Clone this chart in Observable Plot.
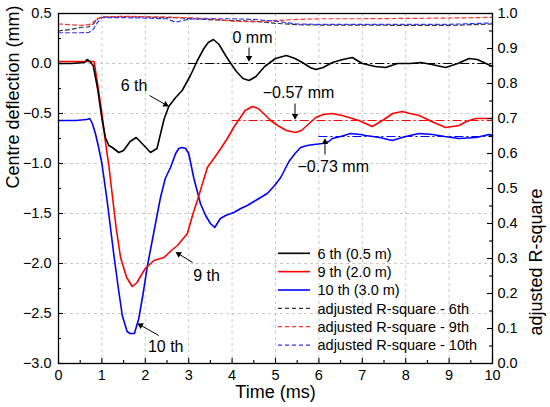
<!DOCTYPE html>
<html><head><meta charset="utf-8">
<script src="https://cdn.jsdelivr.net/npm/d3@7"></script>
<script src="https://cdn.jsdelivr.net/npm/@observablehq/plot@0.6"></script>
<style>body{margin:0;background:#fff}#c{position:relative;width:550px;height:407px}#c svg{display:block}</style>
</head><body><div id="c"></div>
<script>
// 6th (0.5 m)
const t6 = [0,0.3,0.6,0.66,0.72,0.8,0.9,1.0,1.08,1.16,1.24,1.39,1.5,1.65,1.79,1.97,2.12,2.27,2.43,2.54,2.7,2.85,3.04,3.2,3.35,3.45,3.57,3.7,3.85,3.97,4.1,4.25,4.39,4.55,4.75,5.0,5.25,5.45,5.62,5.8,5.93,6.1,6.31,6.55,6.77,7.0,7.3,7.54,7.81,8.1,8.35,8.6,8.92,9.2,9.46,9.65,9.85,10];
const v6 = [0,0,0.01,0.04,0.02,-0.02,-0.25,-0.55,-0.74,-0.82,-0.84,-0.89,-0.87,-0.78,-0.74,-0.82,-0.89,-0.85,-0.56,-0.43,-0.34,-0.27,-0.12,0.03,0.15,0.21,0.24,0.19,0.08,0.0,-0.08,-0.15,-0.17,-0.13,-0.03,0.05,0.08,0.05,0.01,-0.04,-0.06,-0.04,0.01,0.04,0.06,0.0,-0.03,-0.04,0.0,0.0,0.01,-0.01,-0.04,0.0,0.05,0.04,0.0,-0.03];
// 9th (2.0 m)
const t9 = [0,0.5,0.82,0.9,1.0,1.08,1.16,1.24,1.33,1.43,1.57,1.70,1.81,1.9,2.0,2.2,2.43,2.6,2.74,2.97,3.1,3.2,3.43,3.58,3.74,3.89,4.05,4.16,4.3,4.47,4.6,4.75,4.89,5.05,5.25,5.46,5.6,5.75,5.93,6.1,6.3,6.54,6.92,7.23,7.5,7.7,7.92,8.1,8.31,8.6,8.92,9.23,9.4,9.61,10];
const v9 = [0.02,0.02,0.02,-0.2,-0.5,-0.78,-1.02,-1.32,-1.65,-1.94,-2.14,-2.23,-2.19,-2.12,-2.05,-1.97,-1.94,-1.87,-1.82,-1.70,-1.5,-1.37,-1.04,-0.95,-0.85,-0.75,-0.63,-0.56,-0.47,-0.43,-0.45,-0.51,-0.57,-0.62,-0.67,-0.69,-0.67,-0.61,-0.54,-0.51,-0.50,-0.52,-0.57,-0.63,-0.56,-0.50,-0.48,-0.50,-0.52,-0.58,-0.64,-0.62,-0.58,-0.55,-0.55];
// 10th (3.0 m)
const t10 = [0,0.4,0.65,0.72,0.78,0.85,0.92,1.0,1.12,1.28,1.38,1.47,1.58,1.65,1.75,1.85,1.95,2.05,2.2,2.35,2.46,2.58,2.7,2.77,2.85,2.93,3.0,3.12,3.27,3.39,3.5,3.6,3.73,3.85,4.04,4.2,4.35,4.58,4.81,4.98,5.12,5.31,5.45,5.58,5.73,5.89,6.08,6.23,6.31,6.5,6.73,6.96,7.08,7.4,7.69,7.92,8.1,8.31,8.62,8.9,9.23,9.62,9.92,10];
const v10 = [-0.57,-0.57,-0.56,-0.55,-0.6,-0.70,-0.83,-1.0,-1.37,-1.93,-2.25,-2.52,-2.68,-2.70,-2.70,-2.55,-2.3,-2.02,-1.68,-1.34,-1.15,-1.04,-0.9,-0.85,-0.84,-0.85,-0.9,-1.15,-1.4,-1.52,-1.6,-1.64,-1.55,-1.52,-1.49,-1.45,-1.42,-1.36,-1.3,-1.22,-1.14,-0.98,-0.9,-0.84,-0.82,-0.81,-0.80,-0.78,-0.75,-0.73,-0.70,-0.71,-0.72,-0.74,-0.77,-0.74,-0.72,-0.70,-0.71,-0.73,-0.75,-0.74,-0.71,-0.72];
// adjusted R-square (right axis)
const tr = [0,0.3,0.5,0.7,0.8,0.9,1.0,1.5,2.0,2.5,2.7,3.0,3.5,4.0,4.5,5.0,5.5,6,7,8,9,9.5,10];
const r6 = [0.950,0.955,0.960,0.962,0.970,0.985,0.990,0.991,0.990,0.988,0.988,0.986,0.982,0.980,0.978,0.972,0.968,0.967,0.967,0.966,0.966,0.968,0.970];
const r9 = [0.970,0.968,0.966,0.968,0.975,0.985,0.990,0.992,0.991,0.990,0.989,0.988,0.985,0.978,0.976,0.980,0.983,0.985,0.985,0.986,0.987,0.988,0.989];
const r10 = [0.945,0.945,0.945,0.946,0.955,0.975,0.988,0.988,0.987,0.985,0.975,0.984,0.985,0.985,0.983,0.978,0.970,0.969,0.969,0.969,0.969,0.971,0.973];
// plateaus
const plateauStart = [3, 4, 6];
const plateauValue = [0, -0.57, -0.73];
const seriesColor = ["#000000", "#ff0000", "#0000ff"];
// annotations
const annText = ["0 mm", "\u22120.57 mm", "\u22120.73 mm", "6 th", "9 th", "10 th"];
const annX = [4.47, 5.53, 6.33, 1.74, 3.41, 2.47];
const annY = [0.26, -0.29, -1.03, -0.22, -2.125, -2.83];
const arrX1 = [4.39, 5.45, 6.14, 2.10, 3.09, 2.31];
const arrY1 = [0.16, -0.40, -0.91, -0.32, -1.99, -2.72];
const arrX2 = [4.39, 5.45, 6.14, 2.54, 2.70, 1.82];
const arrY2 = [0.02, -0.56, -0.75, -0.43, -1.885, -2.60];
// ticks
const xMajor = d3.range(0, 11);
const xMinor = d3.range(0.5, 10, 1);
const yMajor = d3.range(-3, 0.51, 0.5).map(d => +d.toFixed(2));
const yMinor = d3.range(-2.75, 0.5, 0.5).map(d => +d.toFixed(2));
const rMajor = d3.range(0, 1.01, 0.1).map(d => +d.toFixed(2));
const rMinor = d3.range(0.05, 1, 0.1).map(d => +d.toFixed(2));
const legendLabels = ["6 th (0.5 m)", "9 th (2.0 m)", "10 th (3.0 m)", "adjusted R-square - 6th", "adjusted R-square - 9th", "adjusted R-square - 10th"];

const rToY = r => -3 + 3.5 * r;
const mk = (t, v) => t.map((x, i) => ({t: x, v: v[i]}));
const mkR = (r) => tr.map((x, i) => ({t: x, v: rToY(r[i])}));
const plateaus = plateauStart.map((s, i) => ({x1: s, x2: 10, y: plateauValue[i], c: seriesColor[i]}));
const anns = annText.map((s, i) => ({text: s, x: annX[i], y: annY[i]}));

const W = 550, H = 407, mL = 58, mR = 58, mT = 13, mB = 44;
const pW = W - mL - mR, pH = H - mT - mB;
const kx = pW / 10, ky = pH / 3.5; // px per data unit
const arrows = arrX1.map((x, i) => {
  const dxp = (arrX2[i] - x) * kx, dyp = -(arrY2[i] - arrY1[i]) * ky;
  const L = Math.hypot(dxp, dyp), ux = dxp / L, uy = dyp / L;
  const back = 3.6;
  return {x1: x, y1: arrY1[i], x2: arrX2[i], y2: arrY2[i],
    hx: arrX2[i] - back * ux / kx, hy: arrY2[i] + back * uy / ky,
    sx: arrX2[i] - 5 * ux / kx, sy: arrY2[i] + 5 * uy / ky,
    rot: Math.atan2(ux, -uy) * 180 / Math.PI};
});
const FONT = "'Liberation Sans', Arial, sans-serif";
const fmt = d3.format(".1f");

const plot = Plot.plot({
  width: W, height: H, marginLeft: mL, marginRight: mR, marginTop: mT, marginBottom: mB,
  x: {domain: [0, 10]},
  y: {domain: [-3, 0.5]},
  style: {fontFamily: FONT, fontSize: "14.5px", background: "white", color: "black"},
  marks: [
    Plot.gridX(d3.range(1, 10), {stroke: "#bdbdbd", strokeOpacity: 1, strokeDasharray: "3,3", strokeWidth: 0.8}),
    Plot.gridY(d3.range(-2.5, 0.01, 0.5).map(d => +d.toFixed(2)), {stroke: "#bdbdbd", strokeOpacity: 1, strokeDasharray: "3,3", strokeWidth: 0.8}),
    Plot.ruleY(plateaus, {x1: "x1", x2: "x2", y: "y", stroke: "c", strokeWidth: 1.1, strokeDasharray: "9,3,2,3"}),
    Plot.line(mkR(r6), {x: "t", y: "v", stroke: "#333", strokeWidth: 1.2, strokeDasharray: "4,3"}),
    Plot.line(mkR(r9), {x: "t", y: "v", stroke: "#ff3333", strokeWidth: 1.2, strokeDasharray: "4,3"}),
    Plot.line(mkR(r10), {x: "t", y: "v", stroke: "#3333ff", strokeWidth: 1.2, strokeDasharray: "4,3"}),
    Plot.line(mk(t10, v10), {x: "t", y: "v", stroke: seriesColor[2], strokeWidth: 1.6}),
    Plot.line(mk(t9, v9), {x: "t", y: "v", stroke: seriesColor[1], strokeWidth: 1.6}),
    Plot.line(mk(t6, v6), {x: "t", y: "v", stroke: seriesColor[0], strokeWidth: 1.6}),
    Plot.link(arrows, {x1: "x1", y1: "y1", x2: "sx", y2: "sy", stroke: "black", strokeWidth: 1}),
    Plot.dot(arrows, {x: "hx", y: "hy", symbol: "triangle", r: 2.4, fill: "black", stroke: "none", rotate: "rot"}),
    Plot.text(anns, {x: "x", y: "y", text: "text", fontSize: 16, fill: "black", textAnchor: "middle", lineAnchor: "middle"}),
    Plot.frame({stroke: "black", strokeWidth: 1.3}),
    // inward ticks
    Plot.ruleX(xMajor, {x: d => d, insetTop: pH - 5, stroke: "black", strokeWidth: 1.1}),
    Plot.ruleX(xMinor, {x: d => d, insetTop: pH - 3, stroke: "black", strokeWidth: 1.1}),
    Plot.ruleY(yMajor, {y: d => d, insetRight: pW - 5, stroke: "black", strokeWidth: 1.1}),
    Plot.ruleY(yMinor, {y: d => d, insetRight: pW - 3, stroke: "black", strokeWidth: 1.1}),
    Plot.ruleY(rMajor.map(rToY), {y: d => d, insetLeft: pW - 5, stroke: "black", strokeWidth: 1.1}),
    Plot.ruleY(rMinor.map(rToY), {y: d => d, insetLeft: pW - 3, stroke: "black", strokeWidth: 1.1}),
    Plot.axisX(xMajor, {tickSize: 0, tickPadding: 6, tickFormat: d => String(d), label: null}),
    Plot.axisY(yMajor, {anchor: "left", tickSize: 0, tickPadding: 7, tickFormat: fmt, label: null}),
    Plot.axisY(rMajor.map(rToY), {anchor: "right", tickSize: 0, tickPadding: 5, tickFormat: d => fmt((d + 3) / 3.5), label: null}),
    Plot.text(["Time (ms)"], {frameAnchor: "bottom", dy: 29, fontSize: 18, lineAnchor: "middle", fill: "black"}),
    Plot.text(["Centre deflection (mm)"], {frameAnchor: "left", dx: -45, rotate: -90, fontSize: 18, lineAnchor: "middle", fill: "black"}),
    Plot.text(["adjusted R-square"], {frameAnchor: "right", dx: 44, rotate: -90, fontSize: 18, lineAnchor: "middle", fill: "black"})
  ]
});
document.getElementById("c").appendChild(plot);

// legend (inside plot area, lower right)
const ns = "http://www.w3.org/2000/svg";
const lg = document.createElementNS(ns, "svg");
lg.setAttribute("width", 240); lg.setAttribute("height", 120);
lg.style.position = "absolute"; lg.style.left = "272px"; lg.style.top = "243px";
const lcol = ["#000", "#ff0000", "#0000ff", "#333", "#ff3333", "#3333ff"];
legendLabels.forEach((s, i) => {
  const y = 10.3 + i * 18.35;
  const ln = document.createElementNS(ns, "line");
  ln.setAttribute("x1", 6); ln.setAttribute("x2", 38); ln.setAttribute("y1", y); ln.setAttribute("y2", y);
  ln.setAttribute("stroke", lcol[i]); ln.setAttribute("stroke-width", i < 3 ? 1.6 : 1.2);
  if (i >= 3) ln.setAttribute("stroke-dasharray", "4,3");
  lg.appendChild(ln);
  const tx = document.createElementNS(ns, "text");
  tx.setAttribute("x", 45.5); tx.setAttribute("y", y + 5.2);
  tx.setAttribute("font-family", FONT); tx.setAttribute("font-size", "14.5px");
  tx.textContent = s;
  lg.appendChild(tx);
});
document.getElementById("c").appendChild(lg);
</script></body></html>
